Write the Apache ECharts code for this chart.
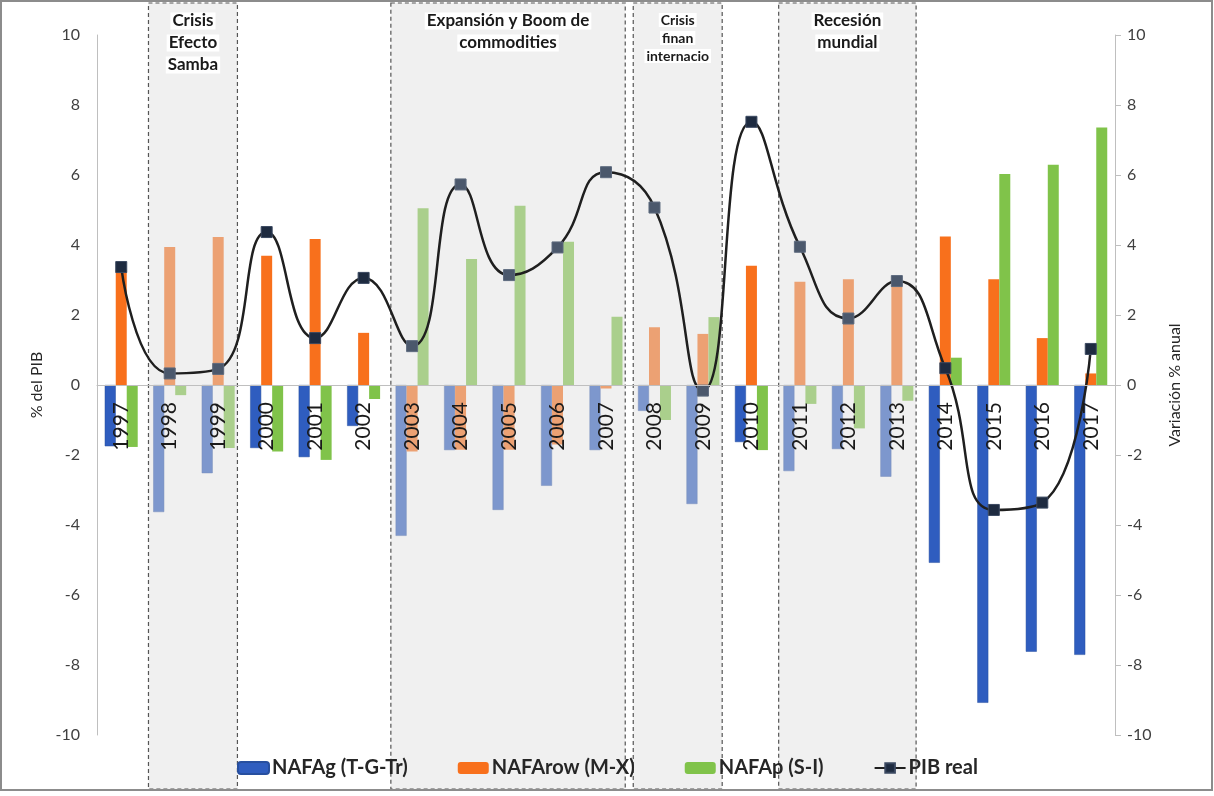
<!DOCTYPE html>
<html>
<head>
<meta charset="utf-8">
<script src="https://cdn.jsdelivr.net/npm/echarts@6/dist/echarts.min.js"></script>
<style>
html,body{margin:0;padding:0;background:#fff;}
#chart{width:1214px;height:796px;}
</style>
</head>
<body>
<div id="chart"></div>
<script>
// ---- data ----
const years = ['1997','1998','1999','2000','2001','2002','2003','2004','2005','2006','2007','2008','2009','2010','2011','2012','2013','2014','2015','2016','2017'];
const nafag = [-1.75,-3.63,-2.52,-1.8,-2.06,-1.17,-4.31,-1.86,-3.57,-2.88,-1.86,-0.74,-3.4,-1.63,-2.46,-1.83,-2.62,-5.08,-9.08,-7.62,-7.71];
const nafarow = [3.3,3.94,4.23,3.69,4.17,1.49,-1.9,-1.85,-1.85,-1.7,-0.1,1.65,1.46,3.41,2.95,3.02,2.95,4.24,3.02,1.34,0.33];
const nafap = [-1.77,-0.29,-1.8,-1.9,-2.14,-0.4,5.05,3.6,5.12,4.09,1.95,-1.0,1.94,-1.86,-0.54,-1.24,-0.45,0.78,6.03,6.29,7.36];
const pib = [3.37,0.33,0.46,4.37,1.34,3.06,1.11,5.73,3.14,3.93,6.08,5.07,-0.16,7.52,3.95,1.9,2.97,0.48,-3.57,-3.36,1.03];
const seriesNames = ['NAFAg (T-G-Tr)','NAFArow (M-X)','NAFAp (S-I)','PIB real'];
const regionStart = ['1998','2003','2008','2011'];
const regionEnd = ['1999','2007','2009','2013'];
const regionTitles = [['Crisis','Efecto','Samba'],['Expansión y Boom de','commodities'],['Crisis','finan','internacio'],['Recesión','mundial']];
const axisName = ['% del PIB','Variación % anual'];

// ---- styles ----
const regionFont = [17,17,14,17];
const regionLineH = [22,22,18,22];
const FONT = 'Lato';
const GRID = {left:97,right:99,top:35,bottom:61};
const plotH = 796 - GRID.top - GRID.bottom;

const chart = echarts.init(document.getElementById('chart'), null, {renderer:'canvas'});
const regionData = regionStart.map((s,i)=>[years.indexOf(s), years.indexOf(regionEnd[i])]);
function inRegion(idx){ return regionData.some(r=>idx>=r[0]&&idx<=r[1]); }
const pibItems = pib.map((v,i)=> inRegion(i)
  ? {value:v,itemStyle:{color:'#4b586c',borderColor:'#5d6a7e'}}
  : {value:v});

chart.setOption({
  animation:false,
  backgroundColor:'#fff',
  textStyle:{fontFamily:FONT},
  grid:Object.assign({containLabel:false},GRID),
  legend:{
    data:seriesNames, left:232, top:753, z:20,
    itemWidth:31, itemHeight:12, itemGap:50,
    textStyle:{fontFamily:FONT,fontSize:20,fontWeight:'bold',color:'#262626',padding:[0,0,0,-2]}
  },
  graphic:[{type:'rect',shape:{x:1,y:1,width:1211,height:789},style:{fill:'none',stroke:'#8c8c8c',lineWidth:2},z:100}],
  xAxis:{
    type:'category', data:years, z:20, position:'bottom', offset:-plotH/2,
    axisLine:{onZero:false,lineStyle:{color:'#bfbfbf',width:1}},
    axisTick:{show:false},
    axisLabel:{rotate:90,margin:17,fontSize:21,color:'#1a1a1a',fontFamily:FONT}
  },
  yAxis:[{
    type:'value', min:-10, max:10, interval:2,
    name:axisName[0], nameLocation:'middle', nameGap:34,
    nameTextStyle:{fontSize:16,color:'#262626',fontFamily:FONT},
    axisLine:{show:true,onZero:false,lineStyle:{color:'#bfbfbf'}},
    axisTick:{show:false}, splitLine:{show:false},
    axisLabel:{fontSize:16,color:'#404040',margin:17,fontFamily:FONT}
  },{
    type:'value', min:-10, max:10, interval:2, position:'right',
    name:axisName[1], nameLocation:'middle', nameGap:52, nameRotate:90,
    nameTextStyle:{fontSize:16,color:'#262626',fontFamily:FONT},
    axisLine:{show:true,onZero:false,lineStyle:{color:'#bfbfbf'}},
    axisTick:{show:true,length:6,lineStyle:{color:'#bfbfbf'}}, splitLine:{show:false},
    axisLabel:{fontSize:16,color:'#404040',margin:12,fontFamily:FONT}
  }],
  series:[
    {name:seriesNames[0],type:'bar',data:nafag,barGap:'0%',barCategoryGap:'32%',itemStyle:{color:'#2f5dbf',borderColor:'#274f9f',borderWidth:0.5}},
    {name:seriesNames[1],type:'bar',data:nafarow,itemStyle:{color:'#f8701c'}},
    {name:seriesNames[2],type:'bar',data:nafap,itemStyle:{color:'#80c34a'}},
    {name:seriesNames[3],type:'line',yAxisIndex:1,data:pibItems,smooth:0.5,z:12,
     symbol:'rect',symbolSize:11,
     lineStyle:{color:'#1f1f1f',width:2.5},
     itemStyle:{color:'#1e2b40',borderColor:'#3a4860',borderWidth:1}},
    {type:'custom',name:'regions',z:10,clip:false,silent:true,
     data:regionData,
     renderItem:function(params,api){
       const i = params.dataIndex;
       const bw = api.size([1,0])[0];
       const x0 = api.coord([api.value(0),0])[0] - bw/2 + 3;
       const x1 = api.coord([api.value(1),0])[0] + bw/2 - 5;
       const cx = (x0+x1)/2;
       const children = [{
         type:'rect',
         shape:{x:x0,y:3,width:x1-x0,height:786},
         style:{fill:'rgba(222,222,222,0.45)',stroke:'#555',lineWidth:1.2,lineDash:[4,3]}
       }];
       regionTitles[i].forEach((t,k)=>{
         children.push({type:'text',z2:5,style:{
           text:t,x:cx,y:(regionFont[i]===14?20:21)+k*regionLineH[i],
           align:'center',verticalAlign:'middle',
           font:'bold '+regionFont[i]+'px '+FONT,fill:'#1a1a1a',
           backgroundColor:'#ffffff',padding:[0,2]
         }});
       });
       return {type:'group',children:children};
     }}
  ]
});
</script>
</body>
</html>
